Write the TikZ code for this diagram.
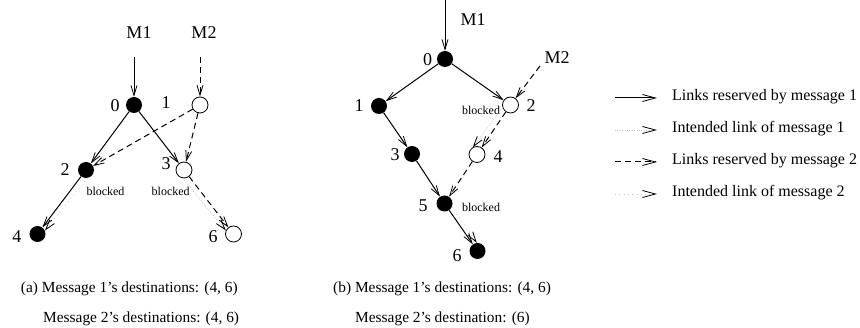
\documentclass[tikz,border=0pt]{standalone}
\usepackage{fontspec}
\setmainfont{Liberation Serif}
\usetikzlibrary{arrows.meta}
\begin{document}
\begin{tikzpicture}[x=1pt,y=-1pt,
  fulldot/.style={circle,fill=black,minimum size=16pt,inner sep=0pt},
  hollowdot/.style={circle,draw=black,fill=white,line width=0.8pt,minimum size=16pt,inner sep=0pt},
  lbl/.style={font=\fontsize{18}{18}\selectfont,inner sep=0pt},
  blk/.style={font=\fontsize{12}{12}\selectfont,inner sep=0pt},
  captxt/.style={font=\fontsize{15.4}{15.4}\selectfont,inner sep=0pt,anchor=west},
  legtxt/.style={font=\fontsize{16}{16}\selectfont,inner sep=0pt,anchor=west},
  barb/.tip={Straight Barb[length=10pt,width=6pt,line width=0.8pt,color=black]},
  lbarb/.tip={Straight Barb[length=13pt,width=7pt,line width=0.8pt,color=black]},
  res1/.style={line width=1pt,-barb},
  res2/.style={line width=1pt,dash pattern=on 6pt off 4pt,-barb},
  int1/.style={line width=0.8pt,gray!45,dash pattern=on 0.8pt off 1.6pt,-barb},
  int2/.style={line width=0.8pt,gray!45,dash pattern=on 0.8pt off 3.5pt,-barb}]
\useasboundingbox (0,0) rectangle (860,328);

% ---------- (a) ----------
\node[fulldot]   (a0) at (134,105) {};
\node[hollowdot] (a1) at (200,105) {};
\node[fulldot]   (a2) at (86,170) {};
\node[hollowdot] (a3) at (184,170) {};
\node[fulldot]   (a4) at (37.5,234) {};
\node[hollowdot] (a6) at (233.5,234) {};
\coordinate (am1) at (134,57);
\coordinate (am2) at (200,57);

\node[lbl] (ta1) at (139,33) {M1};
\node[lbl] (ta2) at (204,33) {M2};
\node[lbl] (la0) at (115,106) {0};
\node[lbl] (la1) at (166,103) {1};
\node[lbl] (la2) at (65,170) {2};
\node[lbl] (la3) at (166,164) {3};
\node[lbl] (la4) at (17,237) {4};
\node[lbl] (la6) at (213,237) {6};
\node[blk] (ba2) at (105.5,191) {blocked};
\node[blk] (ba3) at (170.7,191) {blocked};

\draw[res1] (am1) -- (a0);
\draw[res2] (am2) -- (a1);
\draw[res1] (a0) -- (a2);
\draw[res1] (a0) -- (a3);
\draw[res2] (a1) -- (a2);
\draw[res2] (a1) -- (a3);
\draw[res1] (a2) -- (a4);
\draw[int2] (a2.-80) -- (a4.25);
\draw[res2] (a3) -- (a6);
\draw[int1] (a3.-100) -- (a6.155);

% ---------- (b) ----------
\node[fulldot]   (b0) at (445,59) {};
\node[fulldot]   (b1) at (379,106) {};
\node[hollowdot] (b2) at (510.5,105) {};
\node[fulldot]   (b3) at (412,154) {};
\node[hollowdot] (b4) at (477,154.5) {};
\node[fulldot]   (b5) at (444.5,203.5) {};
\node[fulldot]   (b6) at (477.5,251) {};
\coordinate (bm1) at (445,0);
\coordinate (bm2) at (540,66);

\node[lbl] (tb1) at (473,20) {M1};
\node[lbl] (tb2) at (557,58) {M2};
\node[lbl] (lb0) at (427.5,60) {0};
\node[lbl] (lb1) at (359,106) {1};
\node[lbl] (lb2) at (531,106) {2};
\node[lbl] (lb3) at (395,155) {3};
\node[lbl] (lb4) at (498,157) {4};
\node[lbl] (lb5) at (423,206) {5};
\node[lbl] (lb6) at (457,256) {6};
\node[blk] (bb2) at (481,110) {blocked};
\node[blk] (bb5) at (481,207) {blocked};

\draw[res1] (bm1) -- (b0);
\draw[res1] (b0) -- (b1);
\draw[res1] (b0) -- (b2);
\draw[res1] (b1) -- (b3);
\draw[res1] (b3) -- (b5);
\draw[res1] (b5) -- (b6);
\draw[int2] (b5.-25) -- (b6.95);
\draw[res2] (bm2) -- (b2);
\draw[res2] (b2) -- (b4);
\draw[int1] (b2.200) -- (b4.120);
\draw[res2] (b4) -- (b5);

% ---------- captions ----------
\node[captxt] (ca1) at (20.7,289) {(a) Message 1's destinations: (4, 6)};
\node[captxt] (ca2) at (43,319) {Message 2's destinations: (4, 6)};
\node[captxt] (cb1) at (333,289) {(b) Message 1's destinations: (4, 6)};
\node[captxt] (cb2) at (355,319) {Message 2's destination: (6)};

% ---------- legend ----------
\coordinate (l1a) at (615,98);  \coordinate (l1b) at (657,98);
\coordinate (l2a) at (615,130); \coordinate (l2b) at (657,130);
\coordinate (l3a) at (615,162); \coordinate (l3b) at (657,162);
\coordinate (l4a) at (615,194); \coordinate (l4b) at (657,194);
\draw[res1,-lbarb] (l1a) -- (l1b);
\draw[int1,-lbarb] (l2a) -- (l2b);
\draw[res2,-lbarb] (l3a) -- (l3b);
\draw[int2,-lbarb] (l4a) -- (l4b);
\node[legtxt] (g1) at (672,97)  {Links reserved by message 1};
\node[legtxt] (g2) at (672,129) {Intended link of message 1};
\node[legtxt] (g3) at (672,161) {Links reserved by message 2};
\node[legtxt] (g4) at (672,193) {Intended link of message 2};
\end{tikzpicture}
\end{document}
